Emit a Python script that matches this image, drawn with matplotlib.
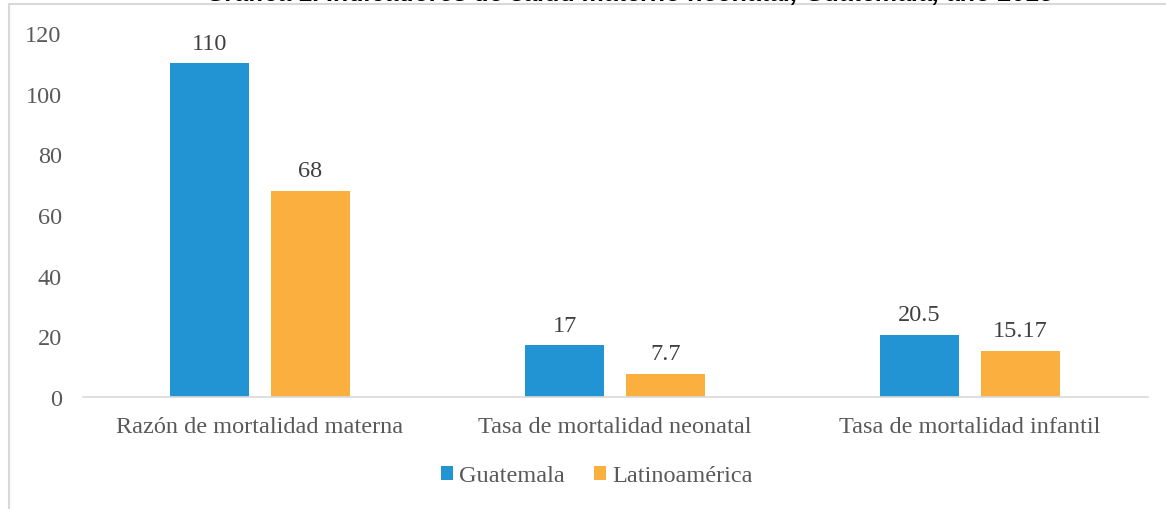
import numpy as np
import matplotlib.pyplot as plt
from matplotlib.lines import Line2D

# Chart data
categories = ["Razón de mortalidad materna", "Tasa de mortalidad neonatal", "Tasa de mortalidad infantil"]
guatemala = [110, 17, 20.5]
latam = [68, 7.7, 15.17]
guatemala_labels = ["110", "17", "20.5"]
latam_labels = ["68", "7.7", "15.17"]
series_names = ["Guatemala", "Latinoamérica"]
y_ticks = [0, 20, 40, 60, 80, 100, 120]
title = "Gráfica 1. Indicadores de salud materno neonatal, Guatemala, año 2015"

BLUE = "#2394D3"
ORANGE = "#FBAF3F"
TEXT = "#595959"
W, H = 1166, 510
FS = 17.5

plt.rcParams['font.family'] = ['Liberation Serif', 'DejaVu Serif']

fig = plt.figure(figsize=(W / 100, H / 100), dpi=100)
ax = fig.add_axes([82.5 / W, 1 - 398 / H, (1147.5 - 82.5) / W, (398 - 34) / H])

x = np.arange(len(categories))
bw = 0.2225
off = 0.142
b1 = ax.bar(x - off, guatemala, bw, color=BLUE, label=series_names[0])
b2 = ax.bar(x + off, latam, bw, color=ORANGE, label=series_names[1])

for bars, labels in ((b1, guatemala_labels), (b2, latam_labels)):
    for rect, lab in zip(bars, labels):
        ax.annotate(lab, (rect.get_x() + rect.get_width() / 2, rect.get_height()),
                    xytext=(0, 7), textcoords="offset points", ha="center", va="bottom",
                    fontsize=FS, color="#404040")

ax.set_xlim(-0.5, 2.5)
ax.set_ylim(0, 120)
ax.set_yticks(y_ticks)
ax.set_xticks(x)
ax.set_xticklabels(categories)
ax.tick_params(axis="both", length=0, labelsize=FS, colors=TEXT)
ax.tick_params(axis="y", pad=15)
ax.tick_params(axis="x", pad=14)
for s in ("top", "right", "left"):
    ax.spines[s].set_visible(False)
ax.spines["bottom"].set_color("#D9D9D9")
ax.spines["bottom"].set_linewidth(1.2)

leg = fig.legend(handles=[b1, b2], labels=series_names, loc="center",
                 bbox_to_anchor=(597 / W, 1 - 477 / H), ncol=2, frameon=False,
                 fontsize=FS, handlelength=0.5, handleheight=0.5, handletextpad=0.25,
                 columnspacing=1.2)
for t in leg.get_texts():
    t.set_color(TEXT)

# outer chart border (only left and top visible)
fig.add_artist(Line2D([8.5 / W, 8.5 / W], [0, 1 - 5 / H], color="#D9D9D9", lw=1.5))
fig.add_artist(Line2D([8.5 / W, 1], [1 - 5 / H, 1 - 5 / H], color="#D9D9D9", lw=1.5))

# title, mostly cropped at the top of the picture
fig.text(630 / W, 1 - 1.0 / H, title, ha="center", va="baseline", fontsize=18,
         fontweight="bold", fontstyle="italic", family=["Liberation Sans", "DejaVu Sans"],
         color="#000000")

fig.savefig("out.png", dpi=100)
